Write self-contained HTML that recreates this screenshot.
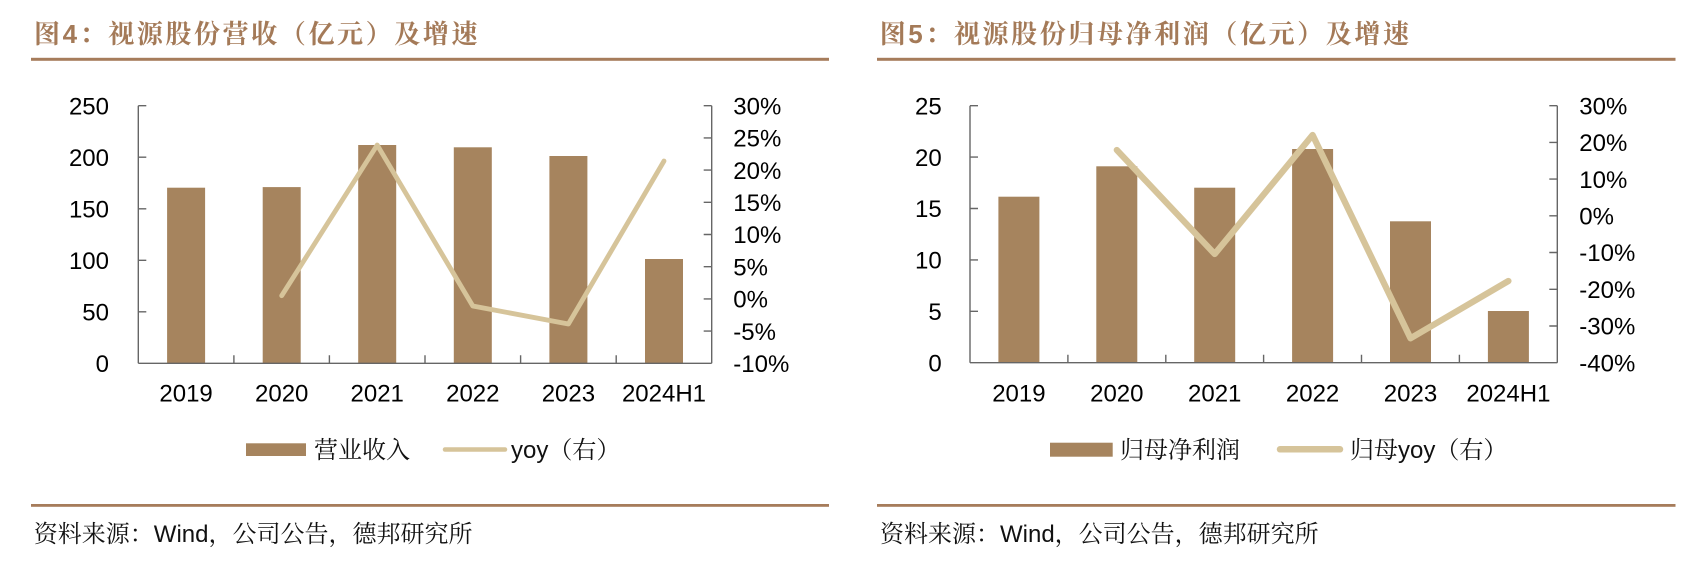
<!DOCTYPE html>
<html><head><meta charset="utf-8"><style>
html,body{margin:0;padding:0;background:#fff;}
svg{display:block;}
.t{font-family:"Liberation Sans","Noto Sans CJK SC",sans-serif;font-size:24px;fill:#000;}
.ti{font-family:"Liberation Sans","Noto Serif CJK SC",serif;font-size:26px;font-weight:bold;fill:#A47A58;letter-spacing:2.6px;}
.lg{font-family:"Liberation Sans","Noto Serif CJK SC",serif;font-size:24px;fill:#111;}
.src{font-family:"Liberation Sans","Noto Serif CJK SC",serif;font-size:24px;fill:#111;}
</style></head><body>
<svg width="1696" height="586" viewBox="0 0 1696 586" xmlns="http://www.w3.org/2000/svg">
<rect width="1696" height="586" fill="#fff"/>

<!-- Titles -->
<text class="ti" x="34" y="43">图4：视源股份营收（亿元）及增速</text>
<text class="ti" x="879.7" y="43">图5：视源股份归母净利润（亿元）及增速</text>
<rect x="31" y="57.8" width="798" height="3" fill="#A67C5B"/>
<rect x="877" y="57.8" width="798.5" height="3" fill="#A67C5B"/>

<!-- ========== Chart 1 ========== -->
<g fill="#A6845E">
<rect x="167.1" y="187.7" width="38" height="175.6"/>
<rect x="262.7" y="187.1" width="38" height="176.2"/>
<rect x="358.2" y="145.0" width="38" height="218.3"/>
<rect x="453.8" y="147.3" width="38" height="216.0"/>
<rect x="549.4" y="156.0" width="38" height="207.3"/>
<rect x="645.0" y="259.0" width="38" height="104.3"/>
</g>
<g stroke="#666" stroke-width="1.4" fill="none">
<line x1="138.3" y1="105.7" x2="138.3" y2="363.3"/>
<line x1="711.7" y1="105.7" x2="711.7" y2="363.3"/>
<line x1="138.3" y1="363.3" x2="711.7" y2="363.3"/>
<path d="M138.3 105.7h8M138.3 157.2h8M138.3 208.8h8M138.3 260.3h8M138.3 311.8h8"/>
<path d="M711.7 105.7h-8M711.7 137.9h-8M711.7 170.1h-8M711.7 202.3h-8M711.7 234.5h-8M711.7 266.7h-8M711.7 298.9h-8M711.7 331.1h-8"/>
<path d="M233.9 363.3v-8M329.4 363.3v-8M425.0 363.3v-8M520.6 363.3v-8M616.2 363.3v-8"/>
</g>
<polyline points="281.7,295.7 377.2,145 472.8,306 568.4,324 664.0,161" fill="none" stroke="#D6C49A" stroke-width="4.8" stroke-linejoin="round" stroke-linecap="round"/>
<g class="t" text-anchor="end">
<text x="109" y="114.4">250</text>
<text x="109" y="165.9">200</text>
<text x="109" y="217.5">150</text>
<text x="109" y="269.0">100</text>
<text x="109" y="320.5">50</text>
<text x="109" y="372.0">0</text>
</g>
<g class="t">
<text x="733.3" y="114.4">30%</text>
<text x="733.3" y="146.6">25%</text>
<text x="733.3" y="178.8">20%</text>
<text x="733.3" y="211.0">15%</text>
<text x="733.3" y="243.2">10%</text>
<text x="733.3" y="275.4">5%</text>
<text x="733.3" y="307.6">0%</text>
<text x="733.3" y="339.8">-5%</text>
<text x="733.3" y="372.0">-10%</text>
</g>
<g class="t" text-anchor="middle">
<text x="186.1" y="401.5">2019</text>
<text x="281.7" y="401.5">2020</text>
<text x="377.2" y="401.5">2021</text>
<text x="472.8" y="401.5">2022</text>
<text x="568.4" y="401.5">2023</text>
<text x="664.0" y="401.5">2024H1</text>
</g>
<!-- legend 1 -->
<rect x="246" y="443.3" width="60" height="12.7" fill="#A6845E"/>
<text class="lg" x="314" y="458">营业收入</text>
<line x1="445" y1="449.5" x2="505" y2="449.5" stroke="#D6C49A" stroke-width="4.5" stroke-linecap="round"/>
<text class="lg" x="511" y="458">yoy（右）</text>

<!-- ========== Chart 2 ========== -->
<g fill="#A6845E">
<rect x="998.4" y="196.7" width="41" height="166.0"/>
<rect x="1096.3" y="166.3" width="41" height="196.4"/>
<rect x="1194.2" y="187.7" width="41" height="175.0"/>
<rect x="1292.1" y="149.0" width="41" height="213.7"/>
<rect x="1390.0" y="221.3" width="41" height="141.4"/>
<rect x="1487.9" y="311.0" width="41" height="51.7"/>
</g>
<g stroke="#666" stroke-width="1.4" fill="none">
<line x1="970" y1="105.7" x2="970" y2="362.7"/>
<line x1="1557.3" y1="105.7" x2="1557.3" y2="362.7"/>
<line x1="970" y1="362.7" x2="1557.3" y2="362.7"/>
<path d="M970 105.7h8M970 157.1h8M970 208.5h8M970 259.9h8M970 311.3h8"/>
<path d="M1557.3 105.7h-8M1557.3 142.4h-8M1557.3 179.1h-8M1557.3 215.8h-8M1557.3 252.5h-8M1557.3 289.3h-8M1557.3 326.0h-8"/>
<path d="M1067.9 362.7v-8M1165.8 362.7v-8M1263.6 362.7v-8M1361.5 362.7v-8M1459.4 362.7v-8"/>
</g>
<polyline points="1116.8,150 1214.7,254 1312.6,135 1410.5,338.3 1508.4,281" fill="none" stroke="#D6C49A" stroke-width="6.3" stroke-linejoin="round" stroke-linecap="round"/>
<g class="t" text-anchor="end">
<text x="941.7" y="114.4">25</text>
<text x="941.7" y="165.8">20</text>
<text x="941.7" y="217.2">15</text>
<text x="941.7" y="268.6">10</text>
<text x="941.7" y="320.0">5</text>
<text x="941.7" y="371.4">0</text>
</g>
<g class="t">
<text x="1579.3" y="114.4">30%</text>
<text x="1579.3" y="151.1">20%</text>
<text x="1579.3" y="187.8">10%</text>
<text x="1579.3" y="224.5">0%</text>
<text x="1579.3" y="261.2">-10%</text>
<text x="1579.3" y="298.0">-20%</text>
<text x="1579.3" y="334.7">-30%</text>
<text x="1579.3" y="371.4">-40%</text>
</g>
<g class="t" text-anchor="middle">
<text x="1018.9" y="401.5">2019</text>
<text x="1116.8" y="401.5">2020</text>
<text x="1214.7" y="401.5">2021</text>
<text x="1312.6" y="401.5">2022</text>
<text x="1410.5" y="401.5">2023</text>
<text x="1508.4" y="401.5">2024H1</text>
</g>
<!-- legend 2 -->
<rect x="1050" y="442.7" width="62.7" height="14" fill="#A6845E"/>
<text class="lg" x="1120" y="458">归母净利润</text>
<line x1="1280" y1="449.3" x2="1340" y2="449.3" stroke="#D6C49A" stroke-width="6.5" stroke-linecap="round"/>
<text class="lg" x="1350" y="458">归母yoy（右）</text>

<!-- Source lines -->
<rect x="31" y="504" width="798" height="2.8" fill="#A67C5B"/>
<rect x="877" y="504" width="798.5" height="2.8" fill="#A67C5B"/>
<text class="src" x="33.8" y="542">资料来源：Wind，公司公告，德邦研究所</text>
<text class="src" x="880" y="542">资料来源：Wind，公司公告，德邦研究所</text>
</svg>
</body></html>
